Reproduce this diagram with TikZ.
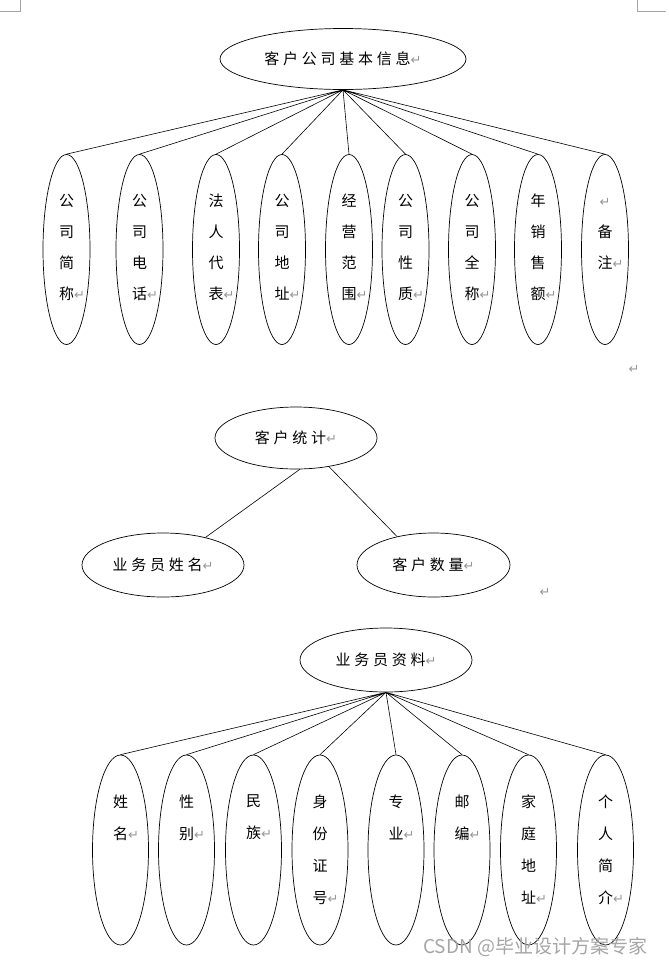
\documentclass[tikz,border=0pt]{standalone}
\usepackage{fontspec}
\usepackage{tikz}
\usetikzlibrary{shapes.geometric}
\newfontfamily\cjk[LetterSpace=25]{Noto Sans CJK SC}
\newfontfamily\wmfont{Noto Sans CJK SC}
\newfontfamily\retfont{DejaVu Sans}
\definecolor{retgray}{RGB}{150,150,150}
\definecolor{markgray}{RGB}{165,165,165}
\newcommand\ret{{\retfont\fontsize{13}{13}\selectfont\textcolor{retgray}{↵}}}
\newcommand\lret{\rlap{\ret}}
\newcommand\vcol[1]{\parbox[c][111pt][t]{30pt}{\centering #1}}

\begin{document}
\begin{tikzpicture}[
      x=1pt, y=-1pt,
      inner sep=0pt,
      font=\cjk\fontsize{15}{31}\selectfont,
      attr/.style={ellipse,draw,line width=0.7pt},
      col/.style={attr,minimum width=47pt,minimum height=190pt},
      colb/.style={attr,minimum width=56pt,minimum height=190pt,
        font=\cjk\fontsize{15}{32}\selectfont},
      link/.style={line width=0.6pt}
    ]
    \useasboundingbox (0,0) rectangle (669,967);
    \draw[markgray,line width=1pt] (20,0) -- (20,11) -- (0,11);
    \draw[markgray,line width=1pt] (637,0) -- (637,11) -- (666,11);

    % 客户公司基本信息
    \node (info) [attr,minimum width=246pt,minimum height=61pt] at (343,59) {客户公司基本信息\ret};
    \node (jc) [col] at (66.5,249.5) {\vcol{公\\司\\简\\称\lret}};
    \node (dh) [col] at (139.5,249.5) {\vcol{公\\司\\电\\话\lret}};
    \node (fr) [col] at (216,249.5) {\vcol{法\\人\\代\\表\lret}};
    \node (dz) [col] at (282,249.5) {\vcol{公\\司\\地\\址\lret}};
    \node (fw) [col] at (349,249.5) {\vcol{经\\营\\范\\围\lret}};
    \node (xz) [col] at (405.5,249.5) {\vcol{公\\司\\性\\质\lret}};
    \node (qc) [col] at (472,249.5) {\vcol{公\\司\\全\\称\lret}};
    \node (xs) [col] at (538,249.5) {\vcol{年\\销\\售\\额\lret}};
    \node (bz) [col] at (605,249.5) {\vcol{\vphantom{备}\ret\\备\\注\lret}};
    \draw[link] (info.south) -- (jc.north) (info.south) -- (dh.north)
      (info.south) -- (fr.north) (info.south) -- (dz.north)
      (info.south) -- (fw.north) (info.south) -- (xz.north)
      (info.south) -- (qc.north) (info.south) -- (xs.north)
      (info.south) -- (bz.north);
    \node (r1) at (634,369) {\ret};

    % 客户统计
    \node (tj) [attr,minimum width=162pt,minimum height=62pt] at (296,438) {客户统计\ret};
    \node (ywy) [attr,minimum width=162pt,minimum height=64pt] at (163,565) {业务员姓名\ret};
    \node (sl) [attr,minimum width=153pt,minimum height=64pt] at (433.5,565) {客户数量\ret};
    \draw[link] (tj.-83) -- (ywy.33) (tj.-41) -- (sl.142);
    \node (r2) at (545,592) {\ret};

    % 业务员资料
    \node (zl) [attr,minimum width=172pt,minimum height=64pt] at (386,660) {业务员资料\ret};
    \node (nm) [colb] at (120.5,850) {\vcol{姓\\名\lret}};
    \node (xb) [colb] at (186.5,850) {\vcol{性\\别\lret}};
    \node (mz) [colb] at (253.5,850) {\vcol{民\\族\lret}};
    \node (sf) [colb] at (320,850) {\vcol{身\\份\\证\\号\lret}};
    \node (zy) [colb] at (396,850) {\vcol{专\\业\lret}};
    \node (yb) [colb] at (462,850) {\vcol{邮\\编\lret}};
    \node (jt) [colb] at (528.5,850) {\vcol{家\\庭\\地\\址\lret}};
    \node (jj) [colb] at (605.5,850) {\vcol{个\\人\\简\\介\lret}};
    \draw[link] (zl.south) -- (nm.north) (zl.south) -- (xb.north)
      (zl.south) -- (mz.north) (zl.south) -- (sf.north)
      (zl.south) -- (zy.north) (zl.south) -- (yb.north)
      (zl.south) -- (jt.north) (zl.south) -- (jj.north);

    \node (wm) [anchor=west,text=markgray,font=\wmfont\fontsize{19}{19}\selectfont] at (423,947) {CSDN @毕业设计方案专家};
  \end{tikzpicture}
\end{document}
